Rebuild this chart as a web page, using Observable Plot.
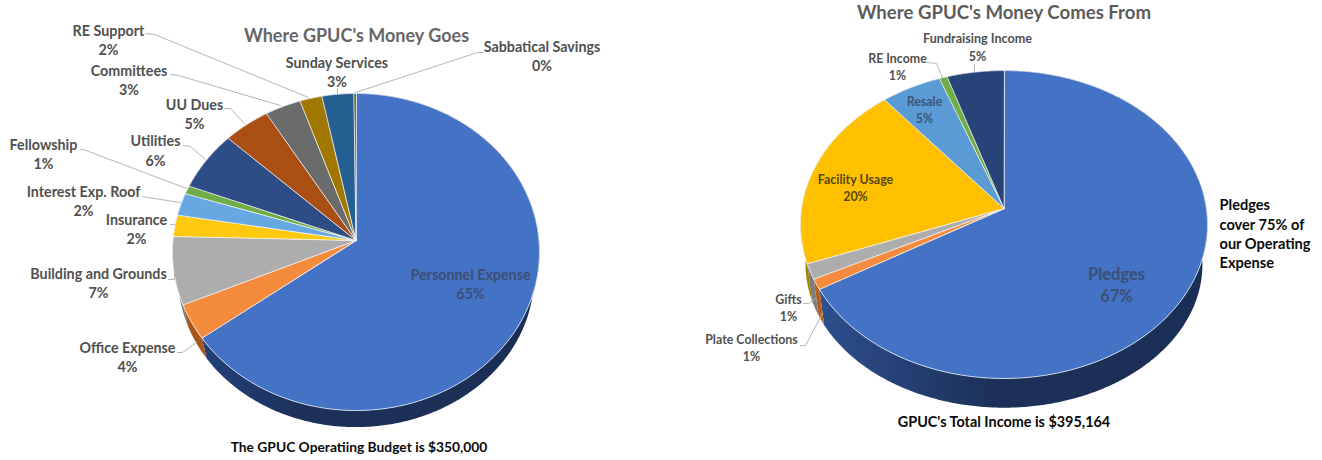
<!DOCTYPE html>
<html>
<head>
<meta charset="utf-8">
<script src="https://cdn.jsdelivr.net/npm/d3@7"></script>
<script src="https://cdn.jsdelivr.net/npm/@observablehq/plot@0.6"></script>
<style>html,body{margin:0;padding:0;background:#fff}svg{display:block}</style>
</head>
<body>
<div id="chart"></div>
<script>
// ---- data ----
const goesNames = ["Personnel Expense","Office Expense","Building and Grounds","Insurance","Interest Exp. Roof","Fellowship","Utilities","UU Dues","Committees","RE Support","Sunday Services","Sabbatical Savings"];
const goesShares = [64.9,3.6,6.9,2.2,2.3,0.85,6.15,4.4,3.4,2.1,3.0,0.2];
const goesLabels = ["65%","4%","7%","2%","2%","1%","6%","5%","3%","2%","3%","0%"];
const goesColors = ["#4472C4","#F58B3C","#ADADAD","#FFC90F","#67A7E2","#70AD47","#2E4D86","#A94F14","#6B6B6B","#A07800","#255E91","#43682B"];
const goesWalls = ["url(#wallA)","#A9551A","#7C7C7C","#B08A00","#4A7DAA","#4F7A32","#1F3560","#76380F","#4A4A4A","#705400","#1A4266","#2F4A1E"];

const comesNames = ["Pledges","Plate Collections","Gifts","Facility Usage","Resale","RE Income","Fundraising Income"];
const comesShares = [66.6,1.1,1.6,19.7,5.3,0.7,5.0];
const comesLabels = ["67%","1%","1%","20%","5%","1%","5%"];
const comesColors = ["#4472C4","#F58B3C","#ADADAD","#FFC000","#5B9BD5","#70AD47","#264478"];
const comesWalls = ["url(#wallB)","#B5601F","#7C7C7C","#A08300","#4A7DAA","#4F7A32","#1A2F55"];

// ---- layout (page pixels) ----
const goesGeom = {ax:355.5, ay:240, R:183, S:157.7, k:0.0726, ex:355.5, ey:251.5, f:0.97, g:0.95, d:24.5};
const comesGeom = {ax:1003.5, ay:208, R:202.4, S:152.3, k:0.104, ex:1003.5, ey:224, f:0.975, g:0.93, d:40};

const grey = "#505050";
const goesPlaces = [
  [470,275,294,"#3C4F76"],[127,348,367,grey],[98,274,293,grey],[136,220,239,grey],[83,192,211,grey],[43,145,164,grey],
  [155,141,161,grey],[194,105,124,grey],[128.5,71,90,grey],[108,31,50,grey],[336.5,63,82,grey],[541.5,47,66,grey]
];
const comesPlaces = [
  [1116,274,296,"#3C4F76",16.5],[751,340,357,grey,12.4],[788,300,317,grey,12.4],[855,180,197,"#57480F",12.4],
  [924,102,119,"#3C5678",12.4],[897,59,76,grey,12.4],[977,38,56,grey,12.6]
];
const leaders = [
  [[145,33],[154,34],[308,97]],
  [[170,74],[178,75],[280,105]],
  [[224,108],[230,108],[244,123]],
  [[183,145],[190,146],[205,159]],
  [[80,149],[83,149],[186,188]],
  [[142,196],[147,197],[180,202]],
  [[170,224],[174,224]],
  [[337,88],[337,93]],
  [[483,52],[477,52],[355,92]],
  [[168,279],[174,279],[174,272]],
  [[177,352],[182,352],[196,342]],
  [[927,62],[936,63],[942,77]],
  [[974,64],[974,71]],
  [[803,303],[808,303],[815,298]],
  [[800,345],[805,345],[822,313]]
];
const titles = [
  {x:356,y:36,text:"Where GPUC's Money Goes",size:18,fill:"#666666"},
  {x:1003.5,y:13,text:"Where GPUC's Money Comes From",size:18.6,fill:"#5c5c5c"},
  {x:358.5,y:447,text:"The GPUC Operatiing Budget is $350,000",size:13.8,fill:"#0a0a0a"},
  {x:1003.5,y:422,text:"GPUC's Total Income is $395,164",size:14.4,fill:"#0a0a0a"}
];
const noteLines = ["Pledges","cover 75% of","our Operating","Expense"];
const noteRows = [205,225,244,263];

// ---- build pie geometry from the shares ----
function project(theta, g) {
  const u = Math.sin(theta), v = -Math.cos(theta), w = 1 - g.k * v;
  return [g.ax + g.R * u / w, g.ay + g.S * v / w];
}
function rim(theta, g) {
  const [x, y] = project(theta, g);
  return [g.ex + (x - g.ex) * g.f, g.ey + (y - g.ey) * g.g + g.d];
}
function buildPie(names, shares, colors, walls, g) {
  const total = d3.sum(shares), faces = [], sides = [];
  let acc = 0;
  names.forEach((name, i) => {
    const a0 = acc / total * 2 * Math.PI; acc += shares[i];
    const a1 = acc / total * 2 * Math.PI;
    const n = Math.max(2, Math.ceil((a1 - a0) / 0.01));
    const thetas = d3.range(n + 1).map(j => a0 + (a1 - a0) * j / n);
    const id = g.ax + name;
    faces.push({id, x:g.ax, y:g.ay, fill:colors[i]});
    thetas.forEach(t => { const [x,y] = project(t,g); faces.push({id, x, y, fill:colors[i]}); });
    thetas.forEach(t => { const [x,y] = project(t,g); sides.push({id, x, y, fill:walls[i]}); });
    thetas.slice().reverse().forEach(t => { const [x,y] = rim(t,g); sides.push({id, x, y, fill:walls[i]}); });
  });
  return {faces, sides};
}
function labelRows(names, labels, places, defSize) {
  return names.flatMap((name, i) => {
    const [x, y1, y2, fill, size] = places[i];
    return [{x, y:y1, text:name, fill, size:size||defSize}, {x, y:y2, text:labels[i], fill, size:size||defSize}];
  });
}
const goes = buildPie(goesNames, goesShares, goesColors, goesWalls, goesGeom);
const comes = buildPie(comesNames, comesShares, comesColors, comesWalls, comesGeom);
const sides = [...goes.sides, ...comes.sides];
const faces = [...goes.faces, ...comes.faces];
const texts = [
  ...labelRows(goesNames, goesLabels, goesPlaces, 14.3),
  ...labelRows(comesNames, comesLabels, comesPlaces, 12.4),
  ...titles
];
const leaderRows = leaders.flatMap((pts, i) => pts.map(([x,y]) => ({id:i, x, y})));
const notes = noteLines.map((text, i) => ({x:1219, y:noteRows[i], text}));

const defs = () => {
  const d = d3.create("svg:defs");
  const grad = (id, c0, mid) => {
    const lg = d.append("linearGradient").attr("id", id);
    lg.append("stop").attr("offset","0").attr("stop-color",c0);
    lg.append("stop").attr("offset",mid).attr("stop-color","#1C3059");
    lg.append("stop").attr("offset","1").attr("stop-color","#1B2E55");
  };
  grad("wallA", "#22417A", "0.3");
  grad("wallB", "#2D4F8E", "0.45");
  return d.node();
};

const chart = Plot.plot({
  width:1322, height:460, margin:0,
  x:{domain:[0,1322], range:[0,1322], axis:null},
  y:{domain:[0,460], range:[0,460], axis:null},
  color:{type:"identity"},
  style:{background:"#fff", fontFamily:"Lato"},
  marks:[
    defs,
    Plot.line(sides,{x:"x",y:"y",z:"id",fill:"fill",stroke:null,curve:"linear"}),
    Plot.line(faces,{x:"x",y:"y",z:"id",fill:"fill",stroke:"#f4f6fa",strokeWidth:0.9,strokeOpacity:0.85,curve:"linear-closed"}),
    Plot.line(leaderRows,{x:"x",y:"y",z:"id",stroke:"#b5b5b5",strokeWidth:1,curve:"linear"}),
    Plot.text(texts,{x:"x",y:"y",text:"text",fill:"fill",fontSize:"size",fontWeight:"bold",textAnchor:"middle",lineAnchor:"middle"}),
    Plot.text(notes,{x:"x",y:"y",text:"text",fill:"#0a0a0a",fontSize:14.6,fontWeight:"bold",textAnchor:"start",lineAnchor:"middle"})
  ]
});
document.getElementById("chart").append(chart);
</script>
</body>
</html>
